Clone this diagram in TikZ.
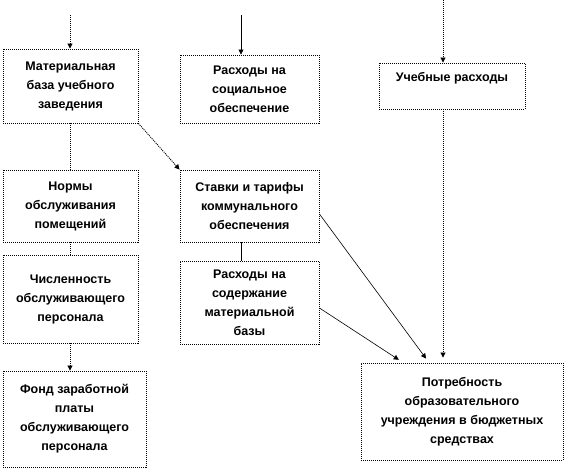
\documentclass[tikz,border=0pt]{standalone}
\usepackage{fontspec}
\setmainfont{Liberation Sans}
\usepackage{tikz}
\usetikzlibrary{positioning,arrows.meta}

\begin{document}
\begin{tikzpicture}[x=1pt,y=-1pt,font=\fontsize{12.5}{19}\selectfont\bfseries,>={Triangle[length=5pt,width=5pt]},
  box/.style={draw,dash pattern=on 1pt off 1pt,line width=0.9pt,align=center,inner sep=0pt},
  dotline/.style={dash pattern=on 1pt off 1pt,line width=0.9pt},
  line/.style={line width=0.6pt}]
  \useasboundingbox (0,0) rectangle (566,470);
  % left column
  \node[box,minimum width=135pt,minimum height=74pt] (mat) at (70.5,86) {Материальная\\база учебного\\заведения};
  \node[box,minimum width=135pt,minimum height=72pt] (norm) at (70.5,206) {Нормы\\обслуживания\\помещений};
  \node[box,minimum width=135pt,minimum height=88pt] (chisl) at (70.5,299) {Численность\\обслуживающего\\персонала};
  \node[box,minimum width=143pt,minimum height=96pt] (fond) at (74.5,419) {Фонд заработной\\платы\\обслуживающего\\персонала};
  % middle column
  \node[box,minimum width=139pt,minimum height=68pt] (soc) at (249.5,89) {Расходы на\\социальное\\обеспечение};
  \node[box,minimum width=139pt,minimum height=72pt] (tarif) at (249.5,206) {Ставки и тарифы\\коммунального\\обеспечения};
  \node[box,minimum width=139pt,minimum height=83pt] (soder) at (249.5,302.5) {Расходы на\\содержание\\материальной\\базы};
  % right column
  \node[box,minimum width=146pt,minimum height=46pt] (ucheb) at (452,86) {Учебные расходы\\ \mbox{}};
  \node[box,minimum width=202pt,minimum height=97pt] (potr) at (462,411.5) {Потребность\\образовательного\\учреждения в бюджетных\\средствах};
  % incoming arrows
  \coordinate (inmat) at (70,15);
  \coordinate (insoc) at (241,15);
  \coordinate (inucheb) at (443,0);
  \draw[dotline,->] (inmat) -- (inmat |- mat.north);
  \draw[line,->] (insoc) -- (insoc |- soc.north);
  \draw[dotline,->] (inucheb) -- (inucheb |- ucheb.north);
  % links
  \draw[dotline] (mat) -- (norm);
  \draw[dotline] (norm) -- (chisl);
  \draw[dotline,->] (chisl.south -| fond.north) ++(-4.5,0) -- ([xshift=-4.5pt]fond.north);
  \draw[dotline,->] (mat.south east) -- (tarif.north west);
  \draw[line] ([xshift=-8.5pt]tarif.south) -- ([xshift=-8.5pt]soder.north);
  \draw[line,->,shorten >=5pt] ([yshift=-8pt]tarif.east) -- ([xshift=-33pt]potr.north);
  \draw[line,->,shorten >=5pt] ([yshift=-5.5pt]soder.east) -- ([xshift=-59pt]potr.north);
  \draw[dotline,->,shorten >=5pt] ([xshift=-9pt]ucheb.south) -- ([xshift=-19pt]potr.north);
\end{tikzpicture}
\end{document}
